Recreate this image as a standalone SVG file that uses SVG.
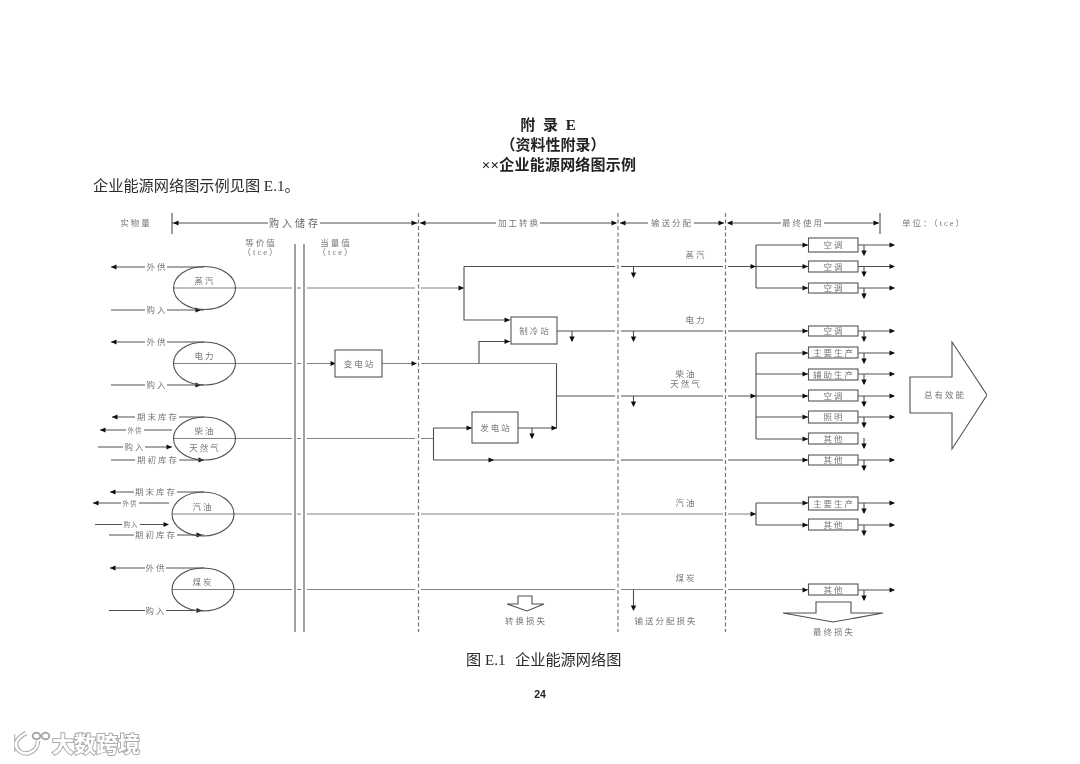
<svg xmlns="http://www.w3.org/2000/svg" width="1080" height="764" viewBox="0 0 1080 764">
<style>
text{font-family:"Liberation Serif","Noto Sans CJK SC",serif;text-anchor:middle}
.page{fill:#2b2b2b;font-size:15.2px;text-anchor:start}
.t{fill:#222;font-size:15px;font-weight:700}
.l{fill:#777;font-size:8.5px;letter-spacing:2px;dominant-baseline:central;transform:translateX(1px)}
.s{fill:#777;font-size:6.5px;letter-spacing:1px;dominant-baseline:central}
.m{fill:#666;font-size:10px;letter-spacing:3px;dominant-baseline:central}
.w{fill:none;stroke:#505050;stroke-width:1.1}
.h{fill:none;stroke:#808080;stroke-width:1.2}
.b{fill:#fff;stroke:#555;stroke-width:1.1}
.d{fill:none;stroke:#777;stroke-width:1.2;stroke-dasharray:4 2.5}
.v{fill:none;stroke:#777;stroke-width:1.4}
.wm{font-family:"Noto Sans CJK SC",sans-serif;font-size:22px;font-weight:700;fill:#fff;stroke:#aaa;stroke-width:2;paint-order:stroke;text-anchor:start}
</style>
<defs>
<filter id="soft" x="0" y="0" width="1" height="1"><feGaussianBlur stdDeviation="0.35"/></filter>
<polygon id="ar" points="-5.500,-2.500 0,0 -5.500,2.500" fill="#111"/>
<polygon id="al" points="5.500,-2.500 0,0 5.500,2.500" fill="#111"/>
<polygon id="ad" points="-2.700,-5.500 2.700,-5.500 0,0" fill="#111"/>
</defs>
<rect width="1080" height="764" fill="#fff"/>
<g filter="url(#soft)">
<g id="titles">
<text class="t" x="548" y="130" word-spacing="4">附 录 E</text>
<text class="t" x="553" y="150">（资料性附录）</text>
<text class="t" x="559" y="170" letter-spacing=".2">××企业能源网络图示例</text>
<text class="page" x="93" y="191">企业能源网络图示例见图 E.1。</text>
<text class="page" x="466" y="665">图 E.1<tspan x="515">企业能源网络图</tspan></text>
<text x="540" y="698" font-size="10.500" font-weight="700" fill="#222" style="font-family:'Liberation Sans',sans-serif">24</text>
</g>
<g id="header">
<path class="w" d="M172 213V234M880 213V234M172 223H268M320 223H418M420 223H496M540 223H616M620 223H648M694 223H724M728 223H781M824 223H879"/>
<use href="#al" x="173" y="223"/><use href="#ar" x="417" y="223"/><use href="#al" x="420" y="223"/><use href="#ar" x="617" y="223"/><use href="#al" x="620" y="223"/><use href="#ar" x="724" y="223"/><use href="#al" x="727" y="223"/><use href="#ar" x="879" y="223"/>
<text class="l" x="135" y="223">实物量</text>
<text class="m" x="295" y="223">购入储存</text>
<text class="l" x="518" y="223">加工转换</text>
<text class="l" x="671" y="223">输送分配</text>
<text class="l" x="802" y="223">最终使用</text>
<text class="l" x="933" y="223">单位：（tce）</text>
<text class="l" x="260" y="243">等价值</text>
<text class="l" x="260" y="252">（tce）</text>
<text class="l" x="335" y="243">当量值</text>
<text class="l" x="335" y="252">（tce）</text>
</g>
<g id="dividers">
<path class="v" d="M295 244V632M304 244V632"/>
<path class="d" d="M418.500 213V632M618 213V632M725.500 213V632"/>
</g>
<g id="connectors">
<path class="h" d="M173 288H292M297 288H301M307 288H415M421 288H464
M173 363.500H292M297 363.500H301M307 363.500H335M382 363.500H415M421 363.500H556.500
M173 438.500H292M297 438.500H301M307 438.500H415M421 438.500H433.500
M172 514H292M297 514H301M307 514H415M421 514H615M621 514H723M728 514H756
M172 589.500H292M297 589.500H301M307 589.500H415M421 589.500H615M621 589.500H723M728 589.500H808.500"/>
<path class="w" d="M464 266.500V320H510M464 266.500H615M621 266.500H723M728 266.500H756
M557 331H615M621 331H723M728 331H808.500
M479 363.500V341.500H510
M556.500 363.500V428H518M557 396H615M621 396H723M728 396H756
M433.500 428V460M433.500 428H472M433.500 460H615M621 460H723M728 460H808.500
M756 245V288M756 245H808.500M756 266.500H808.500M756 288H808.500
M756 353V439M756 353H808.500M756 374H808.500M756 396H808.500M756 417H808.500M756 439H808.500
M756 503V525M756 503H808.500M756 525H808.500
M633.500 266.500V277M633.500 331V341M633.500 396V406M572 331V341M532 428V438M633.500 589.500V610
M858 245H894M858 266.500H894M858 288H894M858 331H894M858 353H894M858 374H894M858 396H894M858 417H894M858 460H894M858 503H894M858 525H894M858 590H894
M864 245V255M864 266.500V276M864 288V298M864 331V341M864 353V363M864 374V384M864 396V406M864 417V427M864 438V448M864 460V470M864 503V513M864 525V535M864 590V600"/>
<use href="#ar" x="336" y="363.500"/><use href="#ar" x="417" y="363.500"/><use href="#ar" x="464" y="288"/><use href="#ar" x="510" y="320"/><use href="#ar" x="510" y="341.500"/><use href="#ar" x="557" y="428"/><use href="#ar" x="472" y="428"/><use href="#ar" x="494" y="460"/>
<use href="#ar" x="756" y="266.500"/><use href="#ar" x="756" y="396"/><use href="#ar" x="756" y="514"/>
<use href="#ar" x="808" y="245"/><use href="#ar" x="808" y="266.500"/><use href="#ar" x="808" y="288"/><use href="#ar" x="808" y="331"/><use href="#ar" x="808" y="353"/><use href="#ar" x="808" y="374"/><use href="#ar" x="808" y="396"/><use href="#ar" x="808" y="417"/><use href="#ar" x="808" y="439"/><use href="#ar" x="808" y="460"/><use href="#ar" x="808" y="503"/><use href="#ar" x="808" y="525"/><use href="#ar" x="808" y="590"/>
<use href="#ar" x="895" y="245"/><use href="#ar" x="895" y="266.500"/><use href="#ar" x="895" y="288"/><use href="#ar" x="895" y="331"/><use href="#ar" x="895" y="353"/><use href="#ar" x="895" y="374"/><use href="#ar" x="895" y="396"/><use href="#ar" x="895" y="417"/><use href="#ar" x="895" y="460"/><use href="#ar" x="895" y="503"/><use href="#ar" x="895" y="525"/><use href="#ar" x="895" y="590"/>
<use href="#ad" x="633.500" y="278"/><use href="#ad" x="633.500" y="342"/><use href="#ad" x="633.500" y="407"/><use href="#ad" x="572" y="342"/><use href="#ad" x="532" y="439"/><use href="#ad" x="633.500" y="611"/>
<use href="#ad" x="864" y="256"/><use href="#ad" x="864" y="277"/><use href="#ad" x="864" y="299"/><use href="#ad" x="864" y="342"/><use href="#ad" x="864" y="364"/><use href="#ad" x="864" y="385"/><use href="#ad" x="864" y="407"/><use href="#ad" x="864" y="428"/><use href="#ad" x="864" y="449"/><use href="#ad" x="864" y="471"/><use href="#ad" x="864" y="514"/><use href="#ad" x="864" y="536"/><use href="#ad" x="864" y="601"/>
<path class="w" d="M111 267H145M167 267H204M111 310H145M167 310H204M111 342H145M167 342H204M111 385H145M167 385H204
M112 417H135M179 417H204M100 430H126M144 430H172M98 447H123M145 447H172M111 460H135M179 460H204
M110 492H134M177 492H204M93 503H121M139 503H169M95 524.500H122M140 524.500H168M109 535H134M177 535H204
M110 568H145M166 568H204M109 610.500H145M166 610.500H204"/>
<use href="#al" x="111" y="267"/><use href="#ar" x="201" y="310"/><use href="#al" x="111" y="342"/><use href="#ar" x="201" y="385"/>
<use href="#al" x="112" y="417"/><use href="#al" x="100" y="430"/><use href="#ar" x="172" y="447"/><use href="#ar" x="204" y="460"/>
<use href="#al" x="110" y="492"/><use href="#al" x="93" y="503"/><use href="#ar" x="169" y="524.500"/><use href="#ar" x="202" y="535"/>
<use href="#al" x="110" y="568"/><use href="#ar" x="202" y="610.500"/>
<text class="l" x="156" y="267">外供</text><text class="l" x="156" y="310">购入</text><text class="l" x="156" y="342">外供</text><text class="l" x="156" y="385">购入</text>
<text class="l" x="157" y="417">期末库存</text><text class="s" x="135" y="430">外供</text><text class="l" x="134" y="447">购入</text><text class="l" x="157" y="460">期初库存</text>
<text class="l" x="155" y="492">期末库存</text><text class="s" x="130" y="503">外供</text><text class="s" x="131" y="524.500">购入</text><text class="l" x="155" y="535">期初库存</text>
<text class="l" x="155" y="568">外供</text><text class="l" x="155" y="610.500">购入</text>
<text class="l" x="695" y="255">蒸汽</text><text class="l" x="695" y="320">电力</text><text class="l" x="685" y="374">柴油</text><text class="l" x="685" y="384">天然气</text><text class="l" x="685" y="503">汽油</text><text class="l" x="685" y="578">煤炭</text>
</g>
<g id="n-steam"><ellipse class="w" cx="204.500" cy="288" rx="31" ry="21.500"/><text class="l" x="204" y="281">蒸汽</text></g>
<g id="n-power"><ellipse class="w" cx="204.500" cy="363.500" rx="31" ry="21.500"/><text class="l" x="204" y="356">电力</text></g>
<g id="n-diesel"><ellipse class="w" cx="204.500" cy="438.500" rx="31" ry="21.500"/><text class="l" x="204" y="431">柴油</text><text class="l" x="204" y="448">天然气</text></g>
<g id="n-gasoline"><ellipse class="w" cx="203" cy="514" rx="31" ry="22"/><text class="l" x="202" y="507">汽油</text></g>
<g id="n-coal"><ellipse class="w" cx="203" cy="589.500" rx="31" ry="21.500"/><text class="l" x="202" y="582">煤炭</text></g>
<g id="n-substation"><rect class="b" x="335" y="350" width="47" height="27"/><text class="l" x="358.500" y="363.500">变电站</text></g>
<g id="n-chiller"><rect class="b" x="511" y="317" width="46" height="27"/><text class="l" x="534" y="331">制冷站</text></g>
<g id="n-generator"><rect class="b" x="472" y="412" width="46" height="31"/><text class="l" x="495" y="428">发电站</text></g>
<g id="n-ac1"><rect class="b" x="808.500" y="238" width="49.500" height="14"/><text class="l" x="833" y="245">空调</text></g>
<g id="n-ac2"><rect class="b" x="808.500" y="261" width="49.500" height="11"/><text class="l" x="833" y="266.500">空调</text></g>
<g id="n-ac3"><rect class="b" x="808.500" y="283" width="49.500" height="10"/><text class="l" x="833" y="288">空调</text></g>
<g id="n-ac4"><rect class="b" x="808.500" y="326" width="49.500" height="10"/><text class="l" x="833" y="331">空调</text></g>
<g id="n-main1"><rect class="b" x="808.500" y="347" width="49.500" height="11"/><text class="l" x="833" y="352.500">主要生产</text></g>
<g id="n-aux"><rect class="b" x="808.500" y="369" width="49.500" height="11"/><text class="l" x="833" y="374.500">辅助生产</text></g>
<g id="n-ac5"><rect class="b" x="808.500" y="390" width="49.500" height="11"/><text class="l" x="833" y="395.500">空调</text></g>
<g id="n-light"><rect class="b" x="808.500" y="411" width="49.500" height="12"/><text class="l" x="833" y="417">照明</text></g>
<g id="n-other1"><rect class="b" x="808.500" y="433" width="49.500" height="11"/><text class="l" x="833" y="438.500">其他</text></g>
<g id="n-other2"><rect class="b" x="808.500" y="455" width="49.500" height="10"/><text class="l" x="833" y="460">其他</text></g>
<g id="n-main2"><rect class="b" x="808.500" y="497" width="49.500" height="13"/><text class="l" x="833" y="503.500">主要生产</text></g>
<g id="n-other3"><rect class="b" x="808.500" y="519" width="49.500" height="11"/><text class="l" x="833" y="524.500">其他</text></g>
<g id="n-other4"><rect class="b" x="808.500" y="584" width="49.500" height="11"/><text class="l" x="833" y="589.500">其他</text></g>
<g id="n-effective"><polygon class="w" points="910,377 952,377 952,342 987,395 952,449 952,413 910,413"/><text class="l" x="944" y="395">总有效能</text></g>
<g id="n-convloss"><polygon class="w" points="518,596 532,596 532,604 544,604 527,611 507,604 518,604"/><text class="l" x="525" y="621">转换损失</text></g>
<g id="n-distloss"><text class="l" x="665" y="621">输送分配损失</text></g>
<g id="n-finalloss"><polygon class="w" points="816,602 851,602 851,613 883,613 833,622 783,613 816,613"/><text class="l" x="833" y="632">最终损失</text></g>
</g>
<g id="watermark" filter="url(#soft)">
<path d="M13 734V752M26 733C19 737 16 741 16 744C16 750 22 755 29 753C35 751 38 746 38 741" fill="none" stroke="#aaa" stroke-width="4.500"/>
<path d="M13 734V752M26 733C19 737 16 741 16 744C16 750 22 755 29 753C35 751 38 746 38 741" fill="none" stroke="#fff" stroke-width="2.500"/>
<ellipse cx="36.500" cy="736" rx="3.800" ry="3.200" fill="#fff" stroke="#aaa" stroke-width="2"/>
<ellipse cx="45.500" cy="736" rx="3.800" ry="3.200" fill="#fff" stroke="#aaa" stroke-width="2"/>
<text class="wm" x="52" y="752">大数跨境</text>
</g>
</svg>
